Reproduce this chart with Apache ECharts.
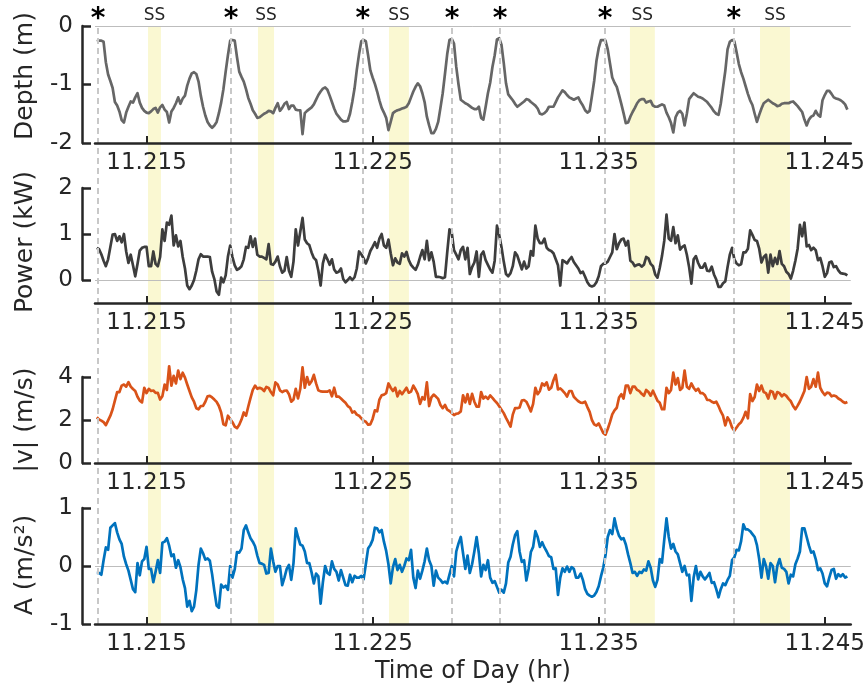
<!DOCTYPE html>
<html><head><meta charset="utf-8">
<script src="https://cdn.jsdelivr.net/npm/echarts@6/dist/echarts.min.js"></script>
<style>html,body{margin:0;padding:0;background:#fff}#c{width:868px;height:690px}</style>
</head><body><div id="c"></div>
<script>
// ---- data (sample times in hours) ----
const time = [
11.2128,11.2129,11.2130,11.2131,11.2132,11.2133,11.2134,11.2135,11.2136,11.2137,
11.2138,11.2139,11.2140,11.2141,11.2142,11.2143,11.2144,11.2145,11.2146,11.2147,
11.2148,11.2149,11.2150,11.2151,11.2152,11.2153,11.2154,11.2155,11.2156,11.2157,
11.2158,11.2159,11.2160,11.2161,11.2162,11.2163,11.2164,11.2165,11.2166,11.2167,
11.2168,11.2169,11.2170,11.2171,11.2172,11.2173,11.2174,11.2175,11.2176,11.2177,
11.2178,11.2179,11.2180,11.2181,11.2182,11.2183,11.2184,11.2185,11.2186,11.2187,
11.2188,11.2189,11.2190,11.2191,11.2192,11.2193,11.2194,11.2195,11.2196,11.2197,
11.2198,11.2199,11.2200,11.2201,11.2202,11.2203,11.2204,11.2205,11.2206,11.2207,
11.2208,11.2209,11.2210,11.2211,11.2212,11.2213,11.2214,11.2215,11.2216,11.2217,
11.2218,11.2219,11.2220,11.2221,11.2222,11.2223,11.2224,11.2225,11.2226,11.2227,
11.2228,11.2229,11.2230,11.2231,11.2232,11.2233,11.2234,11.2235,11.2236,11.2237,
11.2238,11.2239,11.2240,11.2241,11.2242,11.2243,11.2244,11.2245,11.2246,11.2247,
11.2248,11.2249,11.2250,11.2251,11.2252,11.2253,11.2254,11.2255,11.2256,11.2257,
11.2258,11.2259,11.2260,11.2261,11.2262,11.2263,11.2264,11.2265,11.2266,11.2267,
11.2268,11.2269,11.2270,11.2271,11.2272,11.2273,11.2274,11.2275,11.2276,11.2277,
11.2278,11.2279,11.2280,11.2281,11.2282,11.2283,11.2284,11.2285,11.2286,11.2287,
11.2288,11.2289,11.2290,11.2291,11.2292,11.2293,11.2294,11.2295,11.2296,11.2297,
11.2298,11.2299,11.2300,11.2301,11.2302,11.2303,11.2304,11.2305,11.2306,11.2307,
11.2308,11.2309,11.2310,11.2311,11.2312,11.2313,11.2314,11.2315,11.2316,11.2317,
11.2318,11.2319,11.2320,11.2321,11.2322,11.2323,11.2324,11.2325,11.2326,11.2327,
11.2328,11.2329,11.2330,11.2331,11.2332,11.2333,11.2334,11.2335,11.2336,11.2337,
11.2338,11.2339,11.2340,11.2341,11.2342,11.2343,11.2344,11.2345,11.2346,11.2347,
11.2348,11.2349,11.2350,11.2351,11.2352,11.2353,11.2354,11.2355,11.2356,11.2357,
11.2358,11.2359,11.2360,11.2361,11.2362,11.2363,11.2364,11.2365,11.2366,11.2367,
11.2368,11.2369,11.2370,11.2371,11.2372,11.2373,11.2374,11.2375,11.2376,11.2377,
11.2378,11.2379,11.2380,11.2381,11.2382,11.2383,11.2384,11.2385,11.2386,11.2387,
11.2388,11.2389,11.2390,11.2391,11.2392,11.2393,11.2394,11.2395,11.2396,11.2397,
11.2398,11.2399,11.2400,11.2401,11.2402,11.2403,11.2404,11.2405,11.2406,11.2407,
11.2408,11.2409,11.2410,11.2411,11.2412,11.2413,11.2414,11.2415,11.2416,11.2417,
11.2418,11.2419,11.2420,11.2421,11.2422,11.2423,11.2424,11.2425,11.2426,11.2427,
11.2428,11.2429,11.2430,11.2431,11.2432,11.2433,11.2434,11.2435,11.2436,11.2437,
11.2438,11.2439,11.2440,11.2441,11.2442,11.2443,11.2444,11.2445,11.2446,11.2447,
11.2448,11.2449,11.2450,11.2451,11.2452,11.2453,11.2454,11.2455,11.2456,11.2457,
11.2458,11.2459,11.2460];

const depth = [
-0.26,-0.25,-0.25,-0.27,-0.62,-0.83,-0.94,-1.06,-1.3,-1.36,
-1.46,-1.61,-1.65,-1.48,-1.38,-1.29,-1.31,-1.22,-1.15,-1.31,
-1.4,-1.45,-1.48,-1.49,-1.46,-1.42,-1.4,-1.48,-1.39,-1.35,
-1.43,-1.47,-1.65,-1.46,-1.4,-1.32,-1.22,-1.33,-1.24,-1.19,
-1.02,-0.9,-0.81,-0.79,-0.82,-0.95,-1.19,-1.38,-1.53,-1.64,
-1.7,-1.74,-1.7,-1.64,-1.49,-1.31,-1.08,-0.78,-0.5,-0.25,
-0.24,-0.25,-0.53,-0.78,-0.87,-0.95,-1.08,-1.23,-1.33,-1.44,
-1.5,-1.57,-1.56,-1.53,-1.5,-1.48,-1.45,-1.46,-1.49,-1.4,
-1.32,-1.45,-1.4,-1.33,-1.3,-1.42,-1.36,-1.36,-1.43,-1.44,
-1.44,-1.85,-1.49,-1.45,-1.42,-1.39,-1.34,-1.26,-1.18,-1.12,
-1.07,-1.05,-1.09,-1.19,-1.3,-1.41,-1.5,-1.55,-1.6,-1.63,
-1.63,-1.62,-1.5,-1.3,-1.07,-0.75,-0.48,-0.26,-0.24,-0.26,
-0.5,-0.76,-0.88,-0.99,-1.12,-1.27,-1.4,-1.48,-1.57,-1.78,
-1.64,-1.49,-1.46,-1.44,-1.43,-1.41,-1.4,-1.38,-1.32,-1.22,
-1.12,-1.04,-0.98,-1.03,-1.15,-1.3,-1.55,-1.7,-1.83,-1.83,
-1.76,-1.64,-1.4,-1.15,-0.82,-0.48,-0.24,-0.22,-0.3,-0.7,
-1.0,-1.26,-1.29,-1.32,-1.34,-1.37,-1.4,-1.42,-1.42,-1.38,
-1.57,-1.6,-1.38,-1.15,-0.97,-0.7,-0.5,-0.23,-0.21,-0.32,
-0.63,-0.98,-1.17,-1.22,-1.27,-1.33,-1.38,-1.35,-1.32,-1.29,
-1.25,-1.26,-1.3,-1.33,-1.36,-1.41,-1.5,-1.51,-1.49,-1.45,
-1.38,-1.38,-1.38,-1.3,-1.22,-1.16,-1.1,-1.13,-1.18,-1.22,
-1.24,-1.26,-1.24,-1.22,-1.3,-1.36,-1.44,-1.48,-1.45,-1.2,
-0.94,-0.6,-0.38,-0.24,-0.24,-0.25,-0.4,-0.64,-0.88,-0.97,
-1.04,-1.18,-1.33,-1.49,-1.66,-1.65,-1.55,-1.47,-1.4,-1.32,
-1.27,-1.25,-1.25,-1.31,-1.29,-1.28,-1.36,-1.38,-1.38,-1.36,
-1.34,-1.36,-1.48,-1.56,-1.66,-1.82,-1.56,-1.48,-1.45,-1.5,
-1.7,-1.5,-1.25,-1.2,-1.15,-1.18,-1.21,-1.22,-1.24,-1.27,
-1.3,-1.35,-1.4,-1.46,-1.5,-1.52,-1.33,-1.05,-0.77,-0.4,
-0.27,-0.24,-0.26,-0.45,-0.65,-0.79,-0.9,-1.03,-1.16,-1.27,
-1.35,-1.5,-1.64,-1.52,-1.41,-1.32,-1.29,-1.26,-1.29,-1.32,
-1.34,-1.37,-1.36,-1.33,-1.32,-1.32,-1.32,-1.3,-1.29,-1.33,
-1.37,-1.42,-1.47,-1.6,-1.7,-1.6,-1.55,-1.53,-1.45,-1.52,
-1.55,-1.27,-1.18,-1.11,-1.11,-1.16,-1.22,-1.24,-1.25,-1.27,
-1.3,-1.34,-1.43];

const power = [
0.7,0.67,0.56,0.42,0.3,0.45,0.72,0.99,1.0,0.85,
0.95,0.82,1.0,0.62,0.37,0.55,0.32,0.08,0.35,0.64,
0.7,0.72,0.72,0.3,0.3,0.62,0.35,0.3,0.5,1.1,
0.85,1.25,1.2,1.4,0.75,0.97,0.73,0.85,0.5,0.25,
-0.12,-0.2,-0.12,0.0,0.2,0.45,0.56,0.51,0.51,0.51,
0.5,0.18,0.02,-0.25,-0.32,0.05,-0.05,0.1,0.51,0.75,
0.5,0.32,0.22,0.25,0.3,0.45,0.72,0.7,0.95,0.72,
0.9,0.55,0.51,0.51,0.48,0.45,0.78,0.35,0.33,0.4,
0.51,0.3,0.16,0.2,0.5,0.2,0.07,0.4,1.1,0.75,
1.05,1.35,0.88,0.8,0.76,0.6,0.48,0.43,0.2,-0.12,
0.36,0.55,0.45,0.33,0.45,0.23,0.16,0.18,0.25,0.02,
-0.05,0.0,0.06,0.0,0.06,0.25,0.62,0.56,0.47,0.36,
0.48,0.63,0.72,0.82,0.7,0.9,1.0,0.75,0.7,0.88,
0.58,0.32,0.47,0.38,0.35,0.58,0.51,0.61,0.43,0.33,
0.27,0.22,0.33,0.5,0.65,0.45,0.85,0.43,0.6,0.4,
0.07,0.07,0.06,0.04,0.06,0.6,1.1,1.03,0.65,0.55,
0.45,0.65,0.72,0.45,0.7,0.13,0.28,0.38,0.62,0.07,
0.55,0.62,0.43,0.33,0.23,0.16,0.42,1.18,0.98,0.72,
0.4,0.13,0.08,0.15,0.3,0.6,0.53,0.38,0.23,0.4,
0.25,0.3,0.63,0.53,1.18,0.9,0.8,0.8,0.9,0.7,
0.65,0.63,0.58,0.45,0.32,-0.12,0.43,0.4,0.36,0.44,
0.5,0.39,0.32,0.25,0.15,0.18,0.07,-0.05,-0.12,-0.14,
-0.12,-0.05,0.08,0.3,0.35,0.36,0.4,0.5,0.6,1.0,
0.67,0.8,0.88,0.9,0.75,0.85,0.42,0.38,0.3,0.33,
0.34,0.29,0.33,0.5,0.47,0.35,0.3,0.12,0.05,0.26,
0.52,0.85,1.42,0.9,0.85,1.15,0.8,0.97,0.66,0.72,
0.75,0.55,0.28,-0.08,0.45,0.52,0.37,0.27,0.27,0.36,
0.2,0.19,0.29,0.12,0.01,-0.15,-0.15,-0.07,-0.03,0.28,
0.55,0.7,0.45,0.36,0.32,0.34,0.6,0.6,0.68,1.08,
0.98,0.87,0.85,0.68,0.38,0.5,0.55,0.16,0.55,0.3,
0.48,0.35,0.63,0.35,0.3,0.18,0.13,0.03,0.2,0.42,
0.68,1.2,0.95,1.25,0.73,0.76,0.65,0.7,0.65,0.43,
0.48,0.3,0.07,0.15,0.38,0.4,0.28,0.3,0.21,0.15,
0.14,0.13,0.1];

const speed = [
2.13,2.02,1.97,1.9,1.76,1.98,2.2,2.5,2.9,3.3,
3.3,3.6,3.65,3.55,3.76,3.55,3.44,3.35,3.08,2.9,
2.82,3.5,3.25,3.45,3.35,3.37,3.26,3.26,2.95,3.1,
3.65,3.4,4.5,3.6,4.05,3.7,4.3,3.9,4.2,3.97,
3.65,3.35,3.05,2.85,2.55,2.5,2.65,2.66,2.85,3.1,
3.12,3.05,2.95,2.84,2.65,2.35,1.8,1.75,2.2,2.05,
1.9,1.69,1.62,1.78,2.02,2.35,2.2,2.63,3.03,3.4,
3.6,3.45,3.5,3.45,3.35,3.54,3.49,3.3,3.15,3.75,
3.65,3.38,3.3,3.36,3.37,3.2,2.85,2.95,3.45,3.0,
3.45,4.45,3.5,4.0,3.65,3.8,4.1,3.7,3.38,3.33,
3.32,3.32,3.32,3.38,3.1,3.5,3.09,3.09,3.0,2.9,
2.8,2.65,2.58,2.35,2.4,2.25,2.2,2.08,1.97,1.92,
1.78,1.8,2.05,2.45,2.4,2.95,3.15,3.18,3.25,3.7,
3.5,3.35,3.5,3.1,3.35,3.2,3.35,3.5,3.27,3.32,
3.6,3.42,3.2,2.75,3.06,2.95,3.75,2.65,3.05,3.18,
3.09,2.98,2.7,2.55,2.7,2.48,2.42,2.33,2.23,2.29,
2.31,2.4,3.15,2.82,3.2,2.75,3.22,2.85,2.62,2.62,
3.3,3.0,3.09,2.98,3.14,3.03,2.9,2.79,2.64,2.48,
2.32,2.1,1.9,1.69,2.25,2.55,2.55,2.58,2.9,2.93,
2.85,2.64,2.4,2.75,3.5,3.2,3.35,3.7,3.6,3.75,
3.41,3.5,3.85,4.1,3.42,3.47,3.37,3.25,3.09,3.35,
3.35,3.08,2.97,2.87,2.81,2.8,2.85,2.6,2.38,2.0,
1.8,1.74,1.84,1.62,1.4,1.32,1.58,1.9,2.26,2.45,
2.57,3.05,3.2,3.0,3.6,3.6,3.25,3.55,3.55,3.4,
3.34,3.22,3.13,3.4,3.3,3.13,3.36,3.13,2.9,2.8,
2.5,2.5,3.5,3.25,3.4,4.2,3.65,3.95,3.4,3.5,
4.3,3.55,3.45,3.7,3.5,3.36,3.46,3.25,3.25,3.15,
2.93,2.93,2.85,2.8,2.85,2.65,2.4,2.2,1.75,2.12,
1.95,1.65,1.5,1.65,1.8,1.9,2.1,2.38,2.08,3.2,
2.88,3.07,3.65,3.35,3.6,3.3,3.25,3.0,3.35,3.3,
3.0,3.3,3.25,3.1,3.2,3.12,2.98,2.87,2.65,2.5,
2.67,2.86,3.1,3.35,4.0,3.45,3.55,3.9,3.55,4.2,
3.5,3.3,3.16,3.27,3.25,3.1,3.14,3.1,3.0,2.94,
2.85,2.79,2.84];

const accel = [
-0.12,-0.12,-0.15,0.1,0.32,0.28,0.66,0.7,0.74,0.58,
0.46,0.38,0.16,0.03,-0.08,-0.24,-0.4,-0.45,0.05,-0.16,
0.08,0.12,0.33,-0.05,-0.05,-0.28,-0.1,0.1,-0.12,0.4,
0.42,0.48,0.35,0.17,0.2,-0.03,0.1,-0.02,-0.23,-0.38,
-0.7,-0.6,-0.78,-0.7,-0.42,0.02,0.3,0.22,0.11,0.13,
0.09,-0.14,-0.43,-0.68,-0.72,-0.32,-0.37,-0.34,-0.41,0.0,
-0.2,-0.06,0.24,0.23,0.3,0.62,0.7,0.58,0.48,0.42,
0.34,0.18,0.05,0.04,0.02,-0.13,-0.12,0.3,0.08,-0.1,
0.0,0.0,-0.33,-0.2,-0.05,0.02,-0.24,0.05,0.65,0.5,
0.37,0.35,0.25,0.05,0.05,-0.11,-0.3,-0.13,-0.18,-0.65,
-0.28,0.0,-0.12,-0.15,0.08,-0.05,-0.1,-0.25,-0.07,-0.2,
-0.33,-0.34,-0.15,-0.28,-0.17,-0.2,-0.2,-0.17,-0.23,0.03,
0.3,0.36,0.45,0.66,0.65,0.58,0.62,0.42,0.26,0.03,
-0.3,-0.02,0.12,-0.07,0.02,-0.1,0.0,0.13,0.1,0.28,
-0.2,-0.38,-0.08,-0.22,-0.08,0.08,0.3,0.1,0.0,-0.34,
-0.08,-0.2,-0.24,-0.29,-0.27,-0.3,-0.15,0.0,-0.18,0.25,
0.39,0.5,0.22,-0.05,0.18,-0.12,0.03,0.25,0.5,0.22,
-0.18,0.02,-0.07,0.1,-0.2,-0.29,-0.26,-0.36,-0.46,-0.41,
-0.46,-0.3,0.06,0.16,0.37,0.53,0.6,0.25,0.07,0.1,
-0.25,-0.05,0.24,0.33,0.6,0.5,0.33,0.41,0.32,0.25,
0.17,0.15,-0.05,-0.04,-0.5,-0.2,-0.04,-0.1,-0.01,-0.1,
-0.02,-0.05,-0.2,-0.2,-0.13,-0.24,-0.4,-0.48,-0.51,-0.53,
-0.51,-0.45,-0.35,-0.18,-0.03,0.18,0.5,0.62,0.55,0.82,
0.64,0.52,0.46,0.48,0.37,0.2,0.05,-0.12,-0.1,-0.17,
-0.1,-0.12,-0.06,-0.08,0.08,-0.03,-0.25,-0.36,-0.24,0.12,
0.06,0.45,0.82,0.5,0.3,0.38,0.25,0.2,0.05,-0.1,
0.0,-0.16,-0.15,-0.6,-0.2,0.0,-0.23,-0.1,-0.18,-0.23,
-0.18,-0.12,-0.29,-0.28,-0.4,-0.54,-0.4,-0.3,-0.33,-0.24,
-0.17,0.1,0.15,0.28,0.27,0.43,0.72,0.63,0.63,0.6,
0.55,0.5,0.36,0.12,-0.2,0.12,0.0,-0.22,0.05,0.0,
-0.28,0.0,0.12,-0.03,-0.05,-0.1,-0.3,-0.15,-0.18,0.03,
0.13,0.25,0.65,0.65,0.5,0.35,0.23,0.25,0.12,-0.07,
-0.04,-0.13,-0.3,-0.35,-0.2,-0.07,-0.05,-0.22,-0.14,-0.18,
-0.14,-0.2,-0.18];

const eventTimes = [11.21285, 11.21872, 11.22454, 11.22847, 11.23059, 11.23522, 11.24091];
const ssStart = [11.21506, 11.21991, 11.22569, 11.23632, 11.24206];
const ssEnd   = [11.21563, 11.22062, 11.22657, 11.23742, 11.24338];
const xTicks = [11.215, 11.225, 11.235, 11.245];
const yLabels = ['Depth (m)', 'Power (kW)', '|v| (m/s)', 'A (m/s\u00B2)'];

// ---- layout / style ----
const X_MIN = 11.21272, X_MAX = 11.24615;
const FONT = 'DejaVu Sans';
const AX = '#262626';
const LEFT = 95, RIGHT = 15.3;

const panels = [
  {vals: depth, color: '#666666', top: 26,  height: 117, min: -2,   max: 0, bTop: 26,  bH: 117, bMin: -2, bMax: 0, bInt: 1, zero: true,  labY: 76},
  {vals: power, color: '#3d3d3d', top: 188, height: 115, min: -0.5, max: 2, bTop: 188, bH: 92,  bMin: 0,  bMax: 2, bInt: 1, zero: true,  labY: 242},
  {vals: speed, color: '#D95319', top: 377, height: 86,  min: 0,    max: 4, bTop: 377, bH: 86,  bMin: 0,  bMax: 4, bInt: 2, zero: false, labY: 420},
  {vals: accel, color: '#0072BD', top: 508, height: 116, min: -1,   max: 1, bTop: 508, bH: 116, bMin: -1, bMax: 1, bInt: 1, zero: true,  labY: 565}
];

const grid = [], xAxis = [], yAxis = [], series = [];

panels.forEach((p, i) => {
  grid.push({left: LEFT, right: RIGHT, top: p.top, height: p.height});
  xAxis.push({
    type: 'value', gridIndex: i, min: X_MIN, max: X_MAX, position: 'bottom', z: 6,
    axisLine: {show: true, onZero: false, lineStyle: {color: AX, width: 2.5}},
    axisTick: {show: true, inside: true, length: 7, lineStyle: {color: AX, width: 2}, customValues: xTicks},
    axisLabel: {show: true, customValues: xTicks, formatter: v => v.toFixed(3), color: AX, fontSize: 23, fontFamily: FONT, margin: 9},
    splitLine: {show: false},
    name: i === 3 ? 'Time of Day (hr)' : '',
    nameLocation: 'middle', nameGap: 36,
    nameTextStyle: {fontSize: 24, color: AX, fontFamily: FONT}
  });
  yAxis.push({
    type: 'value', gridIndex: i, min: p.min, max: p.max,
    axisLine: {show: false}, axisTick: {show: false}, axisLabel: {show: false}, splitLine: {show: false}
  });
  const s = {
    type: 'line', xAxisIndex: i, yAxisIndex: i, z: 4,
    data: time.map((t, j) => [t, p.vals[j]]),
    showSymbol: false, symbol: 'none', clip: false,
    lineStyle: {color: p.color, width: 2.7, join: 'round'},
    itemStyle: {color: p.color}
  };
  if (p.zero) {
    s.markLine = {
      silent: true, symbol: ['none', 'none'], z: 3, precision: 6,
      label: {show: false},
      lineStyle: {color: '#bdbdbd', width: 1, type: 'solid'},
      data: [{yAxis: 0}]
    };
  }
  series.push(s);
});

panels.forEach((p, i) => {
  const gi = 4 + i;
  grid.push({left: LEFT, right: RIGHT, top: p.bTop, height: p.bH});
  xAxis.push({type: 'value', gridIndex: gi, min: X_MIN, max: X_MAX, show: false});
  yAxis.push({
    type: 'value', gridIndex: gi, min: p.bMin, max: p.bMax, interval: p.bInt, offset: 13, z: 6,
    axisLine: {show: true, lineStyle: {color: AX, width: 2.5}},
    axisTick: {show: true, inside: true, length: 9, lineStyle: {color: AX, width: 2.5}},
    axisLabel: {show: true, color: AX, fontSize: 23, fontFamily: FONT, margin: 9},
    splitLine: {show: false}
  });
});

grid.push({left: LEFT, right: RIGHT, top: 26, bottom: 690 - 624});
xAxis.push({type: 'value', gridIndex: 8, min: X_MIN, max: X_MAX, show: false});
yAxis.push({type: 'value', gridIndex: 8, min: 0, max: 1, show: false});
series.push({
  type: 'line', xAxisIndex: 8, yAxisIndex: 8, data: [], z: 1,
  markArea: {
    silent: true,
    itemStyle: {color: '#faf8d2'},
    label: {show: true, position: 'top', formatter: 'SS', color: AX, fontSize: 17, fontFamily: FONT, distance: 2},
    data: ssStart.map((s, k) => [{xAxis: s}, {xAxis: ssEnd[k]}])
  },
  markLine: {
    silent: true, symbol: ['none', 'none'], precision: 6,
    lineStyle: {color: '#c8c8c8', width: 2, type: [6, 4]},
    label: {show: true, position: 'end', formatter: '*', color: '#000', fontSize: 28, fontWeight: 'bold', fontFamily: FONT, distance: -8},
    data: eventTimes.map(t => ({xAxis: t}))
  }
});

const graphic = panels.map((p, i) => ({
  type: 'text', x: 25, y: p.labY, rotation: Math.PI / 2,
  style: {text: yLabels[i], fontSize: 25, fontFamily: FONT, fill: AX, align: 'center', verticalAlign: 'middle'}
}));

const chart = echarts.init(document.getElementById('c'));
chart.setOption({
  animation: false,
  backgroundColor: '#fff',
  textStyle: {fontFamily: FONT},
  grid, xAxis, yAxis, series, graphic
});
</script>
</body></html>
